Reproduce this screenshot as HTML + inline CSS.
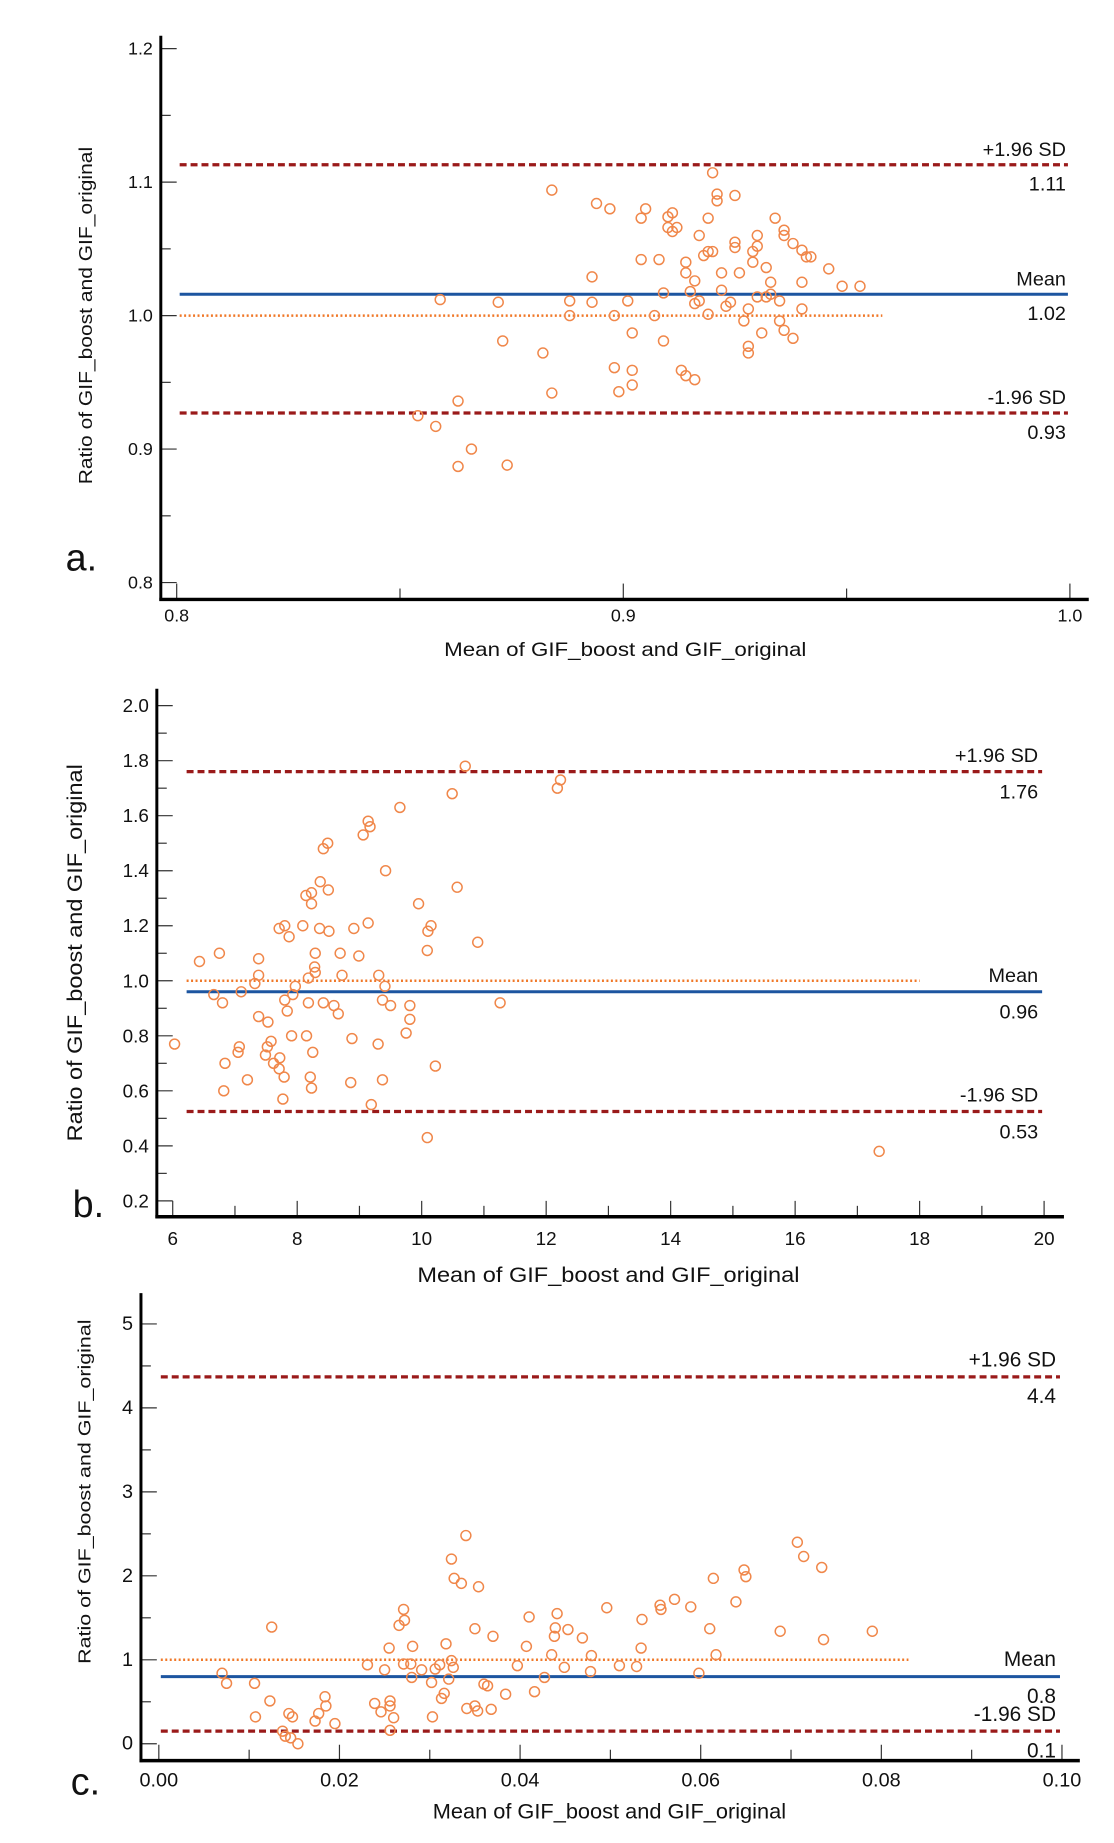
<!DOCTYPE html>
<html><head><meta charset="utf-8"><style>
html,body{margin:0;padding:0;background:#fff}
svg{display:block}
text{font-family:"Liberation Sans",sans-serif;fill:#111}
.narrow{font-family:"Liberation Sans Narrow","Liberation Sans",sans-serif}
</style></head><body>
<svg id="fig" width="1114" height="1843" viewBox="0 0 1122.4 1857" xmlns="http://www.w3.org/2000/svg"></svg>
<script>
// ---------- Panel a data ----------
const aMeanX = [0.854,0.858,0.863,0.863,0.866,0.874,0.859,0.872,0.873,0.882,0.884,0.884,0.888,0.888,0.893,0.893,0.894,0.897,0.898,0.898,0.899,0.901,0.902,0.902,0.902,0.904,0.904,0.905,0.907,0.908,0.909,0.909,0.910,0.910,0.911,0.911,0.912,0.913,0.914,0.914,0.915,0.914,0.916,0.916,0.916,0.917,0.917,0.918,0.919,0.919,0.919,0.920,0.920,0.921,0.921,0.922,0.922,0.923,0.924,0.925,0.925,0.925,0.926,0.927,0.928,0.928,0.928,0.929,0.930,0.930,0.929,0.930,0.931,0.932,0.932,0.933,0.933,0.934,0.935,0.935,0.936,0.936,0.936,0.938,0.938,0.940,0.940,0.941,0.942,0.940,0.946,0.949,0.953];
const aRatio = [0.925,0.917,0.936,0.887,0.900,0.888,1.012,1.010,0.981,0.972,0.942,1.094,1.011,1.000,1.010,1.029,1.084,1.080,1.000,0.961,0.943,1.011,0.948,0.987,0.959,1.042,1.073,1.080,1.000,1.042,1.017,0.981,1.074,1.066,1.077,1.063,1.066,0.959,1.032,1.040,1.018,0.955,0.952,1.009,1.026,1.011,1.060,1.045,1.073,1.001,1.048,1.048,1.107,1.086,1.091,1.032,1.019,1.007,1.010,1.051,1.055,1.090,1.032,0.996,0.977,1.005,0.972,1.040,1.014,1.052,1.048,1.060,0.987,1.036,1.014,1.016,1.025,1.073,1.011,0.996,1.060,0.989,1.064,0.983,1.054,1.049,1.025,1.044,1.044,1.005,1.035,1.022,1.022];
const aLimits = [1.113, 1.016, 0.927];
const aLimitLabels = ["1.11","1.02","0.93"];
const aXTicks = [0.8,0.9,1.0];
const aXTickLabels = ["0.8","0.9","1.0"];
const aYTicks = [0.8,0.9,1.0,1.1,1.2];
const aYTickLabels = ["0.8","0.9","1.0","1.1","1.2"];

// ---------- Panel b data ----------
const bMeanX = [6.03,6.43,6.75,6.66,6.80,6.84,6.82,7.07,7.05,7.2,7.1,7.32,7.38,7.38,7.38,7.53,7.58,7.49,7.52,7.62,7.71,7.72,7.79,7.77,7.71,7.80,7.87,7.80,7.84,7.93,7.97,7.91,8.09,8.14,8.23,8.23,8.15,8.18,8.21,8.23,8.25,8.18,8.28,8.29,8.29,8.36,8.37,8.42,8.49,8.50,8.51,8.42,8.59,8.66,8.69,8.72,8.86,8.88,8.91,8.99,9.06,9.14,9.17,9.14,9.19,9.30,9.31,9.37,9.37,9.41,9.42,9.50,9.65,9.75,9.81,9.81,9.95,10.09,10.10,10.15,10.09,10.22,10.49,10.57,10.70,10.90,11.26,12.18,12.23,17.35];
const bRatio = [0.77,1.07,1.10,0.95,0.92,0.70,0.60,0.76,0.74,0.64,0.96,0.99,1.02,1.08,0.87,0.85,0.78,0.73,0.76,0.70,0.68,0.72,0.65,0.57,1.19,1.20,1.16,0.93,0.89,0.95,0.98,0.80,1.20,1.31,1.32,1.28,0.80,0.92,0.65,0.61,0.74,1.01,1.05,1.03,1.10,1.19,1.36,1.48,1.50,1.33,1.18,0.92,0.91,0.88,1.10,1.02,0.63,0.79,1.19,1.09,1.53,1.58,1.56,1.21,0.55,0.77,1.02,0.64,0.93,0.98,1.40,0.91,1.63,0.81,0.86,0.91,1.28,1.11,1.18,1.20,0.43,0.69,1.68,1.34,1.78,1.14,0.92,1.70,1.73,0.38];
const bLimits = [1.76, 0.96, 0.525];
const bLimitLabels = ["1.76","0.96","0.53"];
const bXTicks = [6,8,10,12,14,16,18,20];
const bXTickLabels = ["6","8","10","12","14","16","18","20"];
const bYTicks = [0.2,0.4,0.6,0.8,1.0,1.2,1.4,1.6,1.8,2.0];
const bYTickLabels = ["0.2","0.4","0.6","0.8","1.0","1.2","1.4","1.6","1.8","2.0"];

// ---------- Panel c data ----------
const cMeanX = [0.0070,0.0075,0.0106,0.0107,0.0123,0.0125,0.0137,0.0140,0.0144,0.0146,0.0148,0.0154,0.0173,0.0177,0.0185,0.0184,0.0195,0.0231,0.0239,0.0246,0.0250,0.0255,0.0256,0.0256,0.0256,0.0260,0.0266,0.0271,0.0272,0.0271,0.0279,0.0280,0.0281,0.0291,0.0302,0.0303,0.0306,0.0311,0.0313,0.0316,0.0318,0.0321,0.0324,0.0326,0.0324,0.0327,0.0335,0.0340,0.0341,0.0350,0.0350,0.0353,0.0354,0.0360,0.0364,0.0368,0.0370,0.0384,0.0397,0.0407,0.0410,0.0416,0.0427,0.0435,0.0438,0.0439,0.0441,0.0449,0.0453,0.0469,0.0478,0.0479,0.0496,0.0510,0.0529,0.0534,0.0535,0.0555,0.0556,0.0571,0.0589,0.0598,0.0610,0.0614,0.0617,0.0639,0.0648,0.0650,0.0688,0.0707,0.0714,0.0734,0.0736,0.0790];
const cRatio = [0.84,0.72,0.72,0.32,0.51,1.39,0.15,0.09,0.36,0.07,0.32,0.00,0.27,0.36,0.45,0.56,0.24,0.94,0.48,0.38,0.88,1.14,0.51,0.45,0.16,0.31,1.41,1.60,1.47,0.95,0.95,0.79,1.16,0.88,0.73,0.32,0.89,0.94,0.54,0.60,1.19,0.77,0.99,0.91,2.20,1.97,1.91,2.48,0.42,1.37,0.45,0.39,1.87,0.71,0.69,0.41,1.28,0.59,0.93,1.16,1.51,0.62,0.79,1.06,1.28,1.38,1.55,0.91,1.36,1.26,0.86,1.05,1.62,0.93,0.92,1.14,1.48,1.65,1.60,1.72,1.63,0.84,1.37,1.97,1.06,1.69,2.07,1.99,1.34,2.40,2.23,2.10,1.24,1.34];
const cLimits = [4.37, 0.80, 0.15];
const cLimitLabels = ["4.4","0.8","0.1"];
const cXTicks = [0,0.02,0.04,0.06,0.08,0.10];
const cXTickLabels = ["0.00","0.02","0.04","0.06","0.08","0.10"];
const cYTicks = [0,1,2,3,4,5];
const cYTickLabels = ["0","1","2","3","4","5"];

const NS = "http://www.w3.org/2000/svg";
const svg = document.getElementById("fig");
function mk(tag, attrs, parent){
  const e = document.createElementNS(NS, tag);
  for (const k in attrs) e.setAttribute(k, attrs[k]);
  (parent||svg).appendChild(e);
  return e;
}

function drawPanel(p){
  const g = mk("g", {});
  
  
  const sx = v => p.x0px + (v - p.x0) * (p.x1px - p.x0px) / (p.x1 - p.x0);
  const sy = v => p.y0px + (v - p.y0) * (p.y1px - p.y0px) / (p.y1 - p.y0);
  const cls = p.narrow ? "narrow" : "";

  for (let v = p.y0; v <= p.y1 + 1e-9; v += p.yMinor){
    const major = p.yTicks.some(t => Math.abs(t - v) < 1e-9);
    const t = mk("line", {x1:p.axisX, x2:p.axisX + (major?16:10), y1:sy(v), y2:sy(v), stroke:"#333", "stroke-width":1.2}, g);
    
    
  }
  p.yTicks.forEach((v,i)=>{
    const t = mk("text", {x:p.axisX - 8, y:sy(v), "text-anchor":"end", "dominant-baseline":"central", "font-size":p.tickFs, class:cls}, g);
    t.textContent = p.yTickLabels[i];
    
    
  });
  for (let v = p.x0; v <= p.x1 + 1e-9; v += p.xMinor){
    const major = p.xTicks.some(t => Math.abs(t - v) < 1e-9);
    const t = mk("line", {x1:sx(v), x2:sx(v), y1:p.axisY, y2:p.axisY - (major?16:11), stroke:"#333", "stroke-width":1.2}, g);
    
    
  }
  p.xTicks.forEach((v,i)=>{
    const t = mk("text", {x:sx(v), y:p.xLabelY, "text-anchor":"middle", "dominant-baseline":"central", "font-size":p.tickFs, class:cls}, g);
    t.textContent = p.xTickLabels[i];
    
    
  });

  const ya = mk("line", {x1:p.axisX, x2:p.axisX, y1:p.axisTop, y2:p.axisY+1.5, stroke:"#000", "stroke-width":3}, g);
  
  
  const xa = mk("line", {x1:p.axisX-1.5, x2:p.axisEnd, y1:p.axisY, y2:p.axisY, stroke:"#000", "stroke-width":3.5}, g);
  
  

  const lx0 = p.lineStart, lx1 = p.lineEnd;
  const eq = mk("line", {x1:lx0, x2:sx(p.dotEnd), y1:sy(1), y2:sy(1), stroke:"#f07828", "stroke-width":2.5, "stroke-dasharray":"2 2.5"}, g);
  
  
  const names = ['upper-limit-line','mean-line','lower-limit-line'];
  p.limits.forEach((v,i)=>{
    const attrs = i===1 ? {stroke:"#1c55a0","stroke-width":3} : {stroke:"#9a1a1a","stroke-width":3.3,"stroke-dasharray":"7 4"};
    const l = mk("line", Object.assign({x1:lx0, x2:lx1, y1:sy(v), y2:sy(v)}, attrs), g);
    
    
  });
  const tops = ["+1.96 SD","Mean","-1.96 SD"];
  p.limits.forEach((v,i)=>{
    const t1 = mk("text", {x:p.labelRight, y:sy(v) - p.offUp, "text-anchor":"end", "dominant-baseline":"central", "font-size":p.labelFs, class:cls}, g);
    t1.textContent = tops[i];
    
    
    const t2 = mk("text", {x:p.labelRight, y:sy(v) + p.offDown, "text-anchor":"end", "dominant-baseline":"central", "font-size":p.labelFs, class:cls}, g);
    t2.textContent = p.limitLabels[i];
    
    
  });

  p.xs.forEach((xv,i)=>{
    const c = mk("circle", {cx:sx(xv), cy:sy(p.ys[i]), r:5, fill:"none", stroke:"#f0874a", "stroke-width":1.5}, g);
    
    
  });

  const xt = mk("text", {x:p.xTitle[0], y:p.xTitle[1], "text-anchor":"middle", "dominant-baseline":"central", "font-size":p.titleFs, textLength:p.xTitle[2], lengthAdjust:"spacingAndGlyphs", class:cls}, g);
  xt.textContent = p.xTitleText;
  
  
  const yt = mk("text", {x:0, y:0, "text-anchor":"middle", "dominant-baseline":"central", "font-size":p.yTitleFs, textLength:p.yTitle[2], lengthAdjust:"spacingAndGlyphs", transform:`translate(${p.yTitle[0]},${p.yTitle[1]}) rotate(-90)`}, g);
  yt.textContent = p.yTitleText;
  
  
  const pl = mk("text", {x:p.letter[0], y:p.letter[1], "text-anchor":"middle", "dominant-baseline":"central", "font-size":38}, g);
  pl.textContent = p.letterText;
  
  
}

drawPanel({id:'panel-a', xs:aMeanX, ys:aRatio, limits:aLimits, limitLabels:aLimitLabels,
  xTicks:aXTicks, xTickLabels:aXTickLabels, yTicks:aYTicks, yTickLabels:aYTickLabels,
  x0:0.8, x1:1.0, x0px:178, x1px:1078, y0:0.8, y1:1.2, y0px:587, y1px:49,
  yMinor:0.05, xMinor:0.05, axisX:162, axisY:604, axisTop:36, axisEnd:1097,
  lineStart:181, lineEnd:1076, dotEnd:0.958, labelRight:1074, offUp:15, offDown:20,
  xLabelY:620, tickFs:18, labelFs:20, titleFs:20, yTitleFs:19,
  xTitle:[630,655,365], xTitleText:"Mean of GIF_boost and GIF_original",
  yTitle:[86,318,340], yTitleText:"Ratio of GIF_boost and GIF_original",
  letter:[82,562], letterText:"a."});

drawPanel({id:'panel-b', xs:bMeanX, ys:bRatio, limits:bLimits, limitLabels:bLimitLabels,
  xTicks:bXTicks, xTickLabels:bXTickLabels, yTicks:bYTicks, yTickLabels:bYTickLabels,
  x0:6, x1:20, x0px:174, x1px:1052, y0:0.2, y1:2.0, y0px:1210, y1px:711,
  yMinor:0.1, xMinor:1, axisX:158, axisY:1226, axisTop:694, axisEnd:1072,
  lineStart:188, lineEnd:1050, dotEnd:18, labelRight:1046, offUp:16, offDown:21,
  xLabelY:1248, tickFs:19, labelFs:20, titleFs:21, yTitleFs:21,
  xTitle:[613,1285,385], xTitleText:"Mean of GIF_boost and  GIF_original",
  yTitle:[76,960,380], yTitleText:"Ratio of GIF_boost and  GIF_original",
  letter:[89,1213], letterText:"b."});

drawPanel({id:'panel-c', narrow:true, xs:cMeanX, ys:cRatio, limits:cLimits, limitLabels:cLimitLabels,
  xTicks:cXTicks, xTickLabels:cXTickLabels, yTicks:cYTicks, yTickLabels:cYTickLabels,
  x0:0, x1:0.1, x0px:160, x1px:1070, y0:0, y1:5, y0px:1757, y1px:1334,
  yMinor:0.5, xMinor:0.01, axisX:142, axisY:1774, axisTop:1303, axisEnd:1088,
  lineStart:162, lineEnd:1068, dotEnd:0.083, labelRight:1064, offUp:17, offDown:20,
  xLabelY:1794, tickFs:20, labelFs:21, titleFs:21, yTitleFs:18,
  xTitle:[614,1826,356], xTitleText:"Mean of GIF_boost and GIF_original",
  yTitle:[85,1503,347], yTitleText:"Ratio of GIF_boost and GIF_original",
  letter:[86,1795], letterText:"c."});
</script>
</body></html>
